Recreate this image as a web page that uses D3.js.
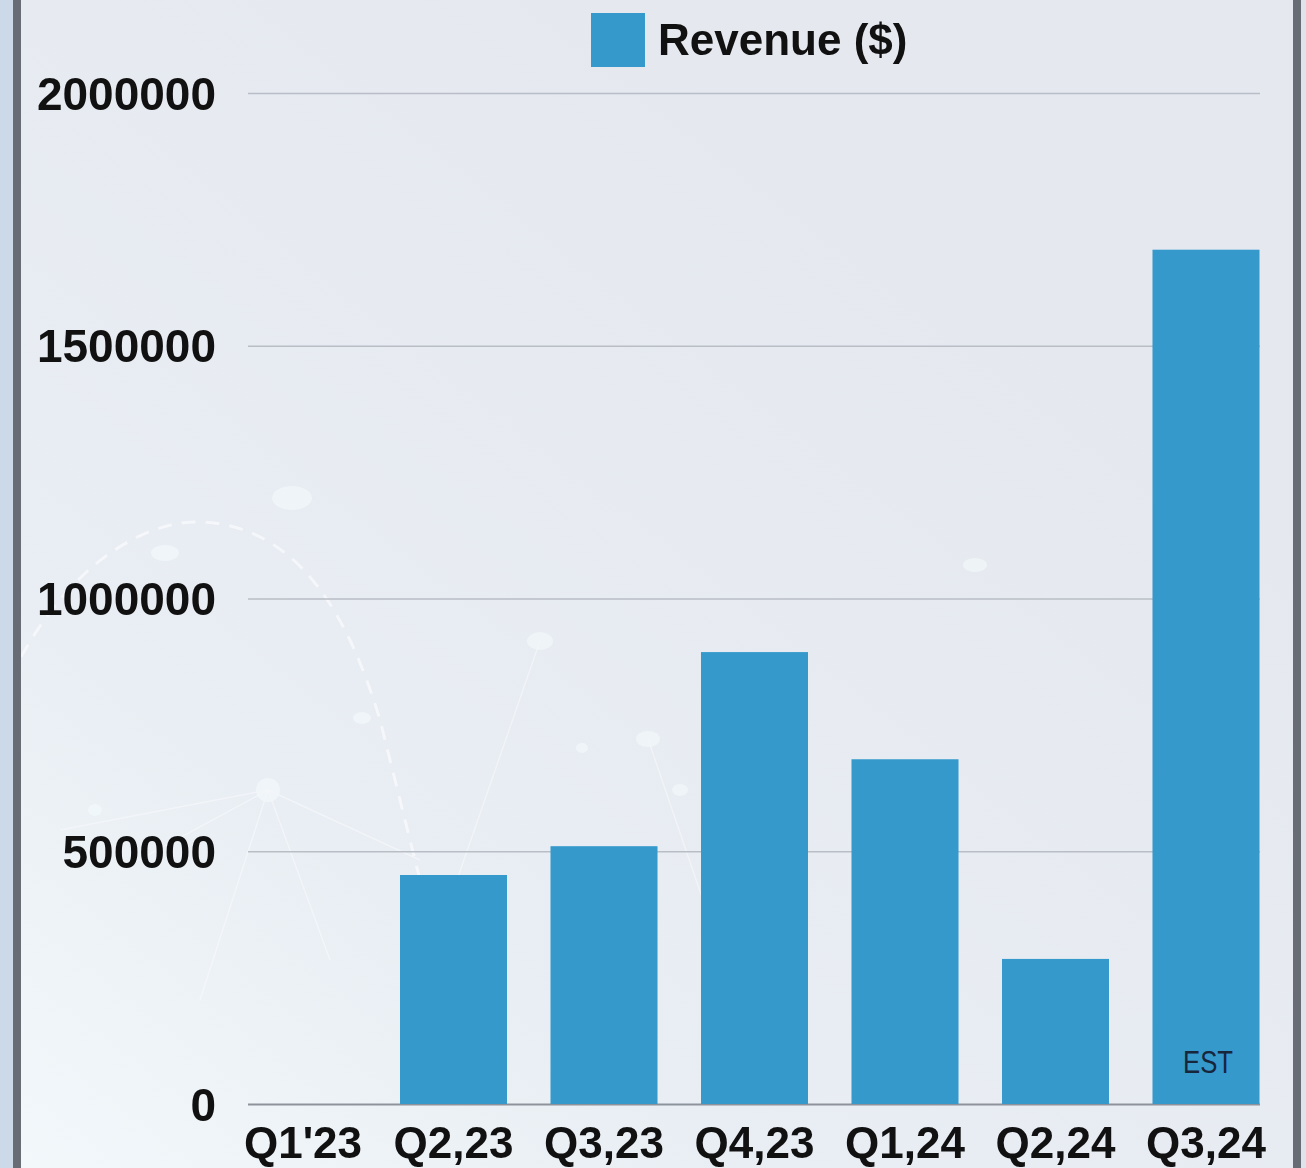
<!DOCTYPE html>
<html>
<head>
<meta charset="utf-8">
<script src="https://cdn.jsdelivr.net/npm/d3@7/dist/d3.min.js"></script>
<style>
  html, body { margin: 0; padding: 0; background: #e6e9ef; }
  svg { display: block; }
</style>
</head>
<body>
<svg id="chart" width="1306" height="1168"></svg>
<script>
const categories = ["Q1'23", "Q2,23", "Q3,23", "Q4,23", "Q1,24", "Q2,24", "Q3,24"];
const revenue = [0, 453000, 510000, 894000, 682000, 287000, 1690000];
const yTicks = [0, 500000, 1000000, 1500000, 2000000];
const seriesName = "Revenue ($)";
const notes = ["", "", "", "", "", "", "EST"];

const W = 1306, H = 1168;
const svg = d3.select("#chart");
const defs = svg.append("defs");

// background
const bg = defs.append("linearGradient").attr("id", "bg")
  .attr("x1", "0").attr("y1", "1").attr("x2", "0.7").attr("y2", "0.2");
bg.append("stop").attr("offset", "0").attr("stop-color", "#f3f8fb");
bg.append("stop").attr("offset", "0.35").attr("stop-color", "#e9eef4");
bg.append("stop").attr("offset", "1").attr("stop-color", "#e5e8ef");
svg.append("rect").attr("width", W).attr("height", H).attr("fill", "url(#bg)");

// decorative background network
const deco = svg.append("g").attr("opacity", 0.55);
deco.append("path")
  .attr("d", "M 0 700 C 60 560, 150 520, 200 522 C 300 525, 350 620, 380 720 C 400 800, 420 880, 440 960")
  .attr("fill", "none").attr("stroke", "#ffffff").attr("stroke-width", 3)
  .attr("stroke-dasharray", "14 10");
const nodes = [[292, 498, 20, 12], [165, 553, 14, 8], [540, 641, 13, 9], [268, 790, 12, 12], [362, 718, 9, 6], [648, 739, 12, 8], [95, 810, 7, 6], [975, 565, 12, 7], [680, 790, 8, 6], [582, 748, 6, 5]];
deco.selectAll("ellipse").data(nodes).join("ellipse")
  .attr("cx", d => d[0]).attr("cy", d => d[1]).attr("rx", d => d[2]).attr("ry", d => d[3])
  .attr("fill", "#f4fcfc");
const links = [[268, 790, 120, 870], [268, 790, 200, 1000], [268, 790, 330, 960], [268, 790, 420, 860], [268, 790, 60, 830], [540, 641, 450, 900], [648, 739, 720, 950]];
deco.selectAll("line.l").data(links).join("line").attr("class", "l")
  .attr("x1", d => d[0]).attr("y1", d => d[1]).attr("x2", d => d[2]).attr("y2", d => d[3])
  .attr("stroke", "#ffffff").attr("stroke-width", 1.5).attr("opacity", 0.7);

// frame strips
svg.append("rect").attr("x", 0).attr("y", 0).attr("width", 13).attr("height", H).attr("fill", "#cbd9e8");
svg.append("rect").attr("x", 13).attr("y", 0).attr("width", 8).attr("height", H).attr("fill", "#686d75");
svg.append("rect").attr("x", 1293).attr("y", 0).attr("width", 8).attr("height", H).attr("fill", "#686d75");
svg.append("rect").attr("x", 1301).attr("y", 0).attr("width", 5).attr("height", H).attr("fill", "#dfe3ea");

const y = d3.scaleLinear().domain([0, 2000000]).range([1104, 93]);
const x = d3.scaleBand().domain(categories).range([249.5, 1259.5]).paddingInner(0.289).paddingOuter(0);

const font = "'Liberation Sans', Arial, sans-serif";

// gridlines
const yAxis = d3.axisLeft(y).tickValues(yTicks).tickSize(-(1260 - 248)).tickFormat(d3.format("d")).tickPadding(32);
const gy = svg.append("g").attr("transform", "translate(248,0)").call(yAxis);
gy.select(".domain").remove();
gy.selectAll(".tick line").attr("stroke", "#b9bdc5").attr("stroke-width", 1.5);
gy.selectAll(".tick").filter(d => d === 0).select("line").attr("stroke", "#8e939b").attr("stroke-width", 2);
gy.selectAll(".tick text").attr("font-family", font).attr("font-weight", "bold")
  .attr("font-size", 46).attr("fill", "#111111").attr("dy", "0.35em");

// bars
svg.append("g").selectAll("rect").data(categories).join("rect")
  .attr("x", d => x(d)).attr("width", x.bandwidth())
  .attr("y", (d, i) => y(revenue[i])).attr("height", (d, i) => y(0) - y(revenue[i]))
  .attr("fill", "#3599cc");

// notes inside bars
svg.append("g").selectAll("text").data(categories.filter((d, i) => notes[i])).join("text")
  .attr("x", d => x(d) + x.bandwidth() / 2 + 2)
  .attr("y", 1073)
  .attr("text-anchor", "middle")
  .attr("font-family", font)
  .attr("font-size", 31).attr("fill", "#17263b")
  .attr("textLength", 50).attr("lengthAdjust", "spacingAndGlyphs")
  .text(d => notes[categories.indexOf(d)]);

// x axis labels
const xAxis = d3.axisBottom(x).tickSize(0).tickPadding(0);
const gx = svg.append("g").attr("transform", "translate(0,1104)").call(xAxis);
gx.select(".domain").remove();
gx.selectAll(".tick text").attr("font-family", font).attr("font-weight", "bold")
  .attr("font-size", 44).attr("fill", "#111111").attr("dy", null).attr("y", 54);

// legend
const lg = svg.append("g");
lg.append("rect").attr("x", 591).attr("y", 13).attr("width", 54).attr("height", 54).attr("fill", "#3599cc");
lg.append("text").attr("x", 658).attr("y", 55).attr("font-family", font).attr("font-weight", "bold")
  .attr("font-size", 44).attr("fill", "#111111").text(seriesName);
</script>
</body>
</html>
